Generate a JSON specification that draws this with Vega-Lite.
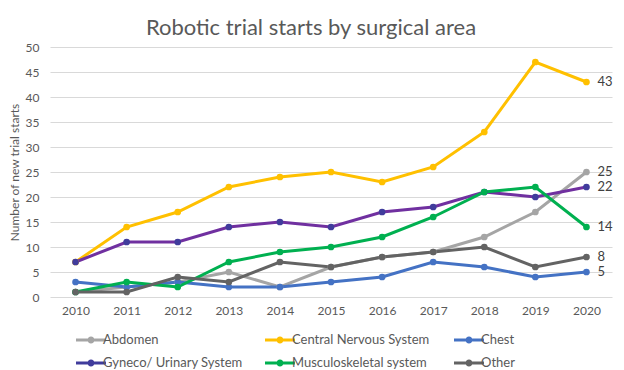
{
  "$schema": "https://vega.github.io/schema/vega-lite/v6.json",
  "width": 562,
  "height": 250,
  "autosize": "none",
  "padding": {"left": 50, "top": 47, "right": 12, "bottom": 73},
  "background": "white",
  "title": {
    "text": "Robotic trial starts by surgical area",
    "font": "Lato",
    "fontSize": 22,
    "fontWeight": "normal",
    "color": "#595959",
    "anchor": "middle",
    "dx": -20,
    "offset": 1
  },
  "config": {
    "view": {"stroke": null},
    "font": "Lato",
    "axis": {
      "labelFont": "Lato",
      "labelFontSize": 12,
      "labelColor": "#595959",
      "titleFont": "Lato",
      "titleFontSize": 12,
      "titleFontWeight": "normal",
      "titleColor": "#595959",
      "domain": false,
      "ticks": false,
      "gridColor": "#d9d9d9",
      "gridWidth": 1
    }
  },
  "data": {
    "values": [
      {"year": "2010", "area": "Abdomen", "n": 1},
      {"year": "2011", "area": "Abdomen", "n": 2},
      {"year": "2012", "area": "Abdomen", "n": 3},
      {"year": "2013", "area": "Abdomen", "n": 5},
      {"year": "2014", "area": "Abdomen", "n": 2},
      {"year": "2015", "area": "Abdomen", "n": 6},
      {"year": "2016", "area": "Abdomen", "n": 8},
      {"year": "2017", "area": "Abdomen", "n": 9},
      {"year": "2018", "area": "Abdomen", "n": 12},
      {"year": "2019", "area": "Abdomen", "n": 17},
      {"year": "2020", "area": "Abdomen", "n": 25},
      {"year": "2010", "area": "Central Nervous System", "n": 7},
      {"year": "2011", "area": "Central Nervous System", "n": 14},
      {"year": "2012", "area": "Central Nervous System", "n": 17},
      {"year": "2013", "area": "Central Nervous System", "n": 22},
      {"year": "2014", "area": "Central Nervous System", "n": 24},
      {"year": "2015", "area": "Central Nervous System", "n": 25},
      {"year": "2016", "area": "Central Nervous System", "n": 23},
      {"year": "2017", "area": "Central Nervous System", "n": 26},
      {"year": "2018", "area": "Central Nervous System", "n": 33},
      {"year": "2019", "area": "Central Nervous System", "n": 47},
      {"year": "2020", "area": "Central Nervous System", "n": 43},
      {"year": "2010", "area": "Chest", "n": 3},
      {"year": "2011", "area": "Chest", "n": 2},
      {"year": "2012", "area": "Chest", "n": 3},
      {"year": "2013", "area": "Chest", "n": 2},
      {"year": "2014", "area": "Chest", "n": 2},
      {"year": "2015", "area": "Chest", "n": 3},
      {"year": "2016", "area": "Chest", "n": 4},
      {"year": "2017", "area": "Chest", "n": 7},
      {"year": "2018", "area": "Chest", "n": 6},
      {"year": "2019", "area": "Chest", "n": 4},
      {"year": "2020", "area": "Chest", "n": 5},
      {"year": "2010", "area": "Gyneco/ Urinary System", "n": 7},
      {"year": "2011", "area": "Gyneco/ Urinary System", "n": 11},
      {"year": "2012", "area": "Gyneco/ Urinary System", "n": 11},
      {"year": "2013", "area": "Gyneco/ Urinary System", "n": 14},
      {"year": "2014", "area": "Gyneco/ Urinary System", "n": 15},
      {"year": "2015", "area": "Gyneco/ Urinary System", "n": 14},
      {"year": "2016", "area": "Gyneco/ Urinary System", "n": 17},
      {"year": "2017", "area": "Gyneco/ Urinary System", "n": 18},
      {"year": "2018", "area": "Gyneco/ Urinary System", "n": 21},
      {"year": "2019", "area": "Gyneco/ Urinary System", "n": 20},
      {"year": "2020", "area": "Gyneco/ Urinary System", "n": 22},
      {"year": "2010", "area": "Musculoskeletal system", "n": 1},
      {"year": "2011", "area": "Musculoskeletal system", "n": 3},
      {"year": "2012", "area": "Musculoskeletal system", "n": 2},
      {"year": "2013", "area": "Musculoskeletal system", "n": 7},
      {"year": "2014", "area": "Musculoskeletal system", "n": 9},
      {"year": "2015", "area": "Musculoskeletal system", "n": 10},
      {"year": "2016", "area": "Musculoskeletal system", "n": 12},
      {"year": "2017", "area": "Musculoskeletal system", "n": 16},
      {"year": "2018", "area": "Musculoskeletal system", "n": 21},
      {"year": "2019", "area": "Musculoskeletal system", "n": 22},
      {"year": "2020", "area": "Musculoskeletal system", "n": 14},
      {"year": "2010", "area": "Other", "n": 1},
      {"year": "2011", "area": "Other", "n": 1},
      {"year": "2012", "area": "Other", "n": 4},
      {"year": "2013", "area": "Other", "n": 3},
      {"year": "2014", "area": "Other", "n": 7},
      {"year": "2015", "area": "Other", "n": 6},
      {"year": "2016", "area": "Other", "n": 8},
      {"year": "2017", "area": "Other", "n": 9},
      {"year": "2018", "area": "Other", "n": 10},
      {"year": "2019", "area": "Other", "n": 6},
      {"year": "2020", "area": "Other", "n": 8}
    ]
  },
  "encoding": {
    "x": {
      "field": "year",
      "type": "ordinal",
      "scale": {"paddingInner": 0, "paddingOuter": 0.5},
      "axis": {"title": null, "labelAngle": 0, "labelPadding": 8, "grid": false}
    },
    "y": {
      "field": "n",
      "type": "quantitative",
      "scale": {"domain": [0, 50], "nice": false},
      "axis": {
        "title": "Number of new trial starts",
        "values": [0, 5, 10, 15, 20, 25, 30, 35, 40, 45, 50],
        "labelPadding": 11,
        "titlePadding": 4
      }
    }
  },
  "layer": [
    {
      "mark": {"type": "line", "strokeWidth": 3},
      "encoding": {
        "color": {
          "field": "area",
          "type": "nominal",
          "scale": {
            "domain": ["Abdomen", "Central Nervous System", "Chest", "Gyneco/ Urinary System", "Musculoskeletal system", "Other"],
            "range": ["#a5a5a5", "#ffc000", "#4472c4", "#7030a0", "#00b050", "#636363"]
          },
          "legend": {
            "title": null,
            "orient": "none",
            "legendX": 31,
            "legendY": 283,
            "direction": "horizontal",
            "columns": 3,
            "gridAlign": "all",
            "columnPadding": 22,
            "rowPadding": 6,
            "labelFont": "Lato",
            "labelFontSize": 13,
            "labelColor": "#595959",
            "labelOffset": 2,
            "labelLimit": 300,
            "symbolType": "M-1.5,-0.15H-0.3V0.15H-1.5Z M0.3,-0.15H1.5V0.15H0.3Z M-0.35,0A0.35,0.35 0 1,1 0.35,0A0.35,0.35 0 1,1 -0.35,0Z",
            "symbolSize": 400,
            "symbolStrokeWidth": 0,
            "encode": {
              "symbols": {
                "update": {
                  "fill": {"scale": "fill", "field": "value"},
                  "stroke": {"value": "transparent"}
                }
              }
            }
          }
        }
      }
    },
    {
      "mark": {"type": "point", "filled": true, "size": 45, "opacity": 1},
      "encoding": {
        "fill": {
          "field": "area",
          "type": "nominal",
          "scale": {
            "domain": ["Abdomen", "Central Nervous System", "Chest", "Gyneco/ Urinary System", "Musculoskeletal system", "Other"],
            "range": ["#a5a5a5", "#ffc000", "#4472c4", "#403c9c", "#00b050", "#636363"]
          },
          "legend": null
        }
      }
    },
    {
      "transform": [{"filter": "datum.year == '2020'"}],
      "mark": {"type": "text", "align": "left", "dx": 11, "font": "Lato", "fontSize": 13, "color": "#404040"},
      "encoding": {"text": {"field": "n", "type": "quantitative"}}
    }
  ]
}
